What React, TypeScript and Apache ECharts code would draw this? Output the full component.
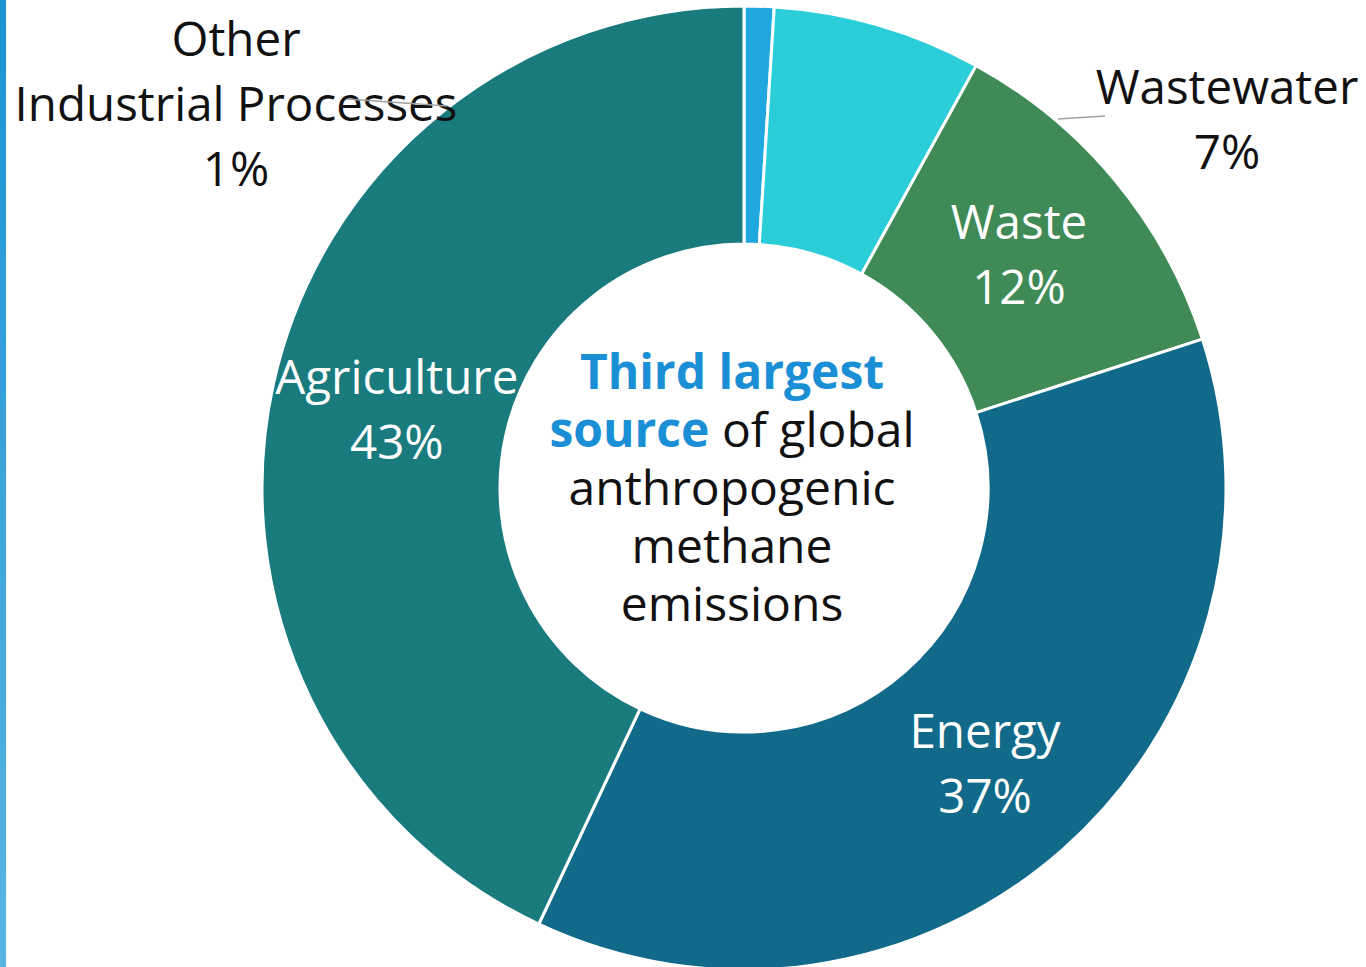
import React, { useEffect, useRef } from "react";
import * as echarts from "echarts";

// Sources of anthropogenic methane emissions (share, %)
const categories = [
  "Other\nIndustrial Processes",
  "Wastewater",
  "Waste",
  "Energy",
  "Agriculture",
];
const shares = [1, 7, 12, 37, 43];
const colors = ["#1fa8e0", "#2acdd8", "#3f8a56", "#116a8a", "#1a7b7f"];
// Slices whose label sits outside the ring
const outsideLabels: Record<number, { x: number; y: number }> = {
  0: { x: 236, y: 102 },
  1: { x: 1227, y: 118 },
};
// Small nudges for the inside labels
const labelNudge: Record<number, { dx: number; dy: number }> = {
  2: { dx: -7, dy: -2 },
  3: { dx: -1, dy: -1 },
  4: { dx: 10, dy: 0 },
};

const FONT = "'Open Sans', 'Noto Sans', sans-serif";

export default function App() {
  const ref = useRef<HTMLDivElement>(null);

  useEffect(() => {
    if (!ref.current) return;
    const chart = echarts.init(ref.current, null, { renderer: "svg" });

    const data = categories.map((name, i) => {
      const outside = i in outsideLabels;
      return {
        name,
        value: shares[i],
        itemStyle: { color: colors[i] },
        label: { color: outside ? "#111111" : "#ffffff" },
      };
    });

    chart.setOption({
      animation: false,
      backgroundColor: "#ffffff",
      graphic: [
        {
          type: "rect",
          left: 0,
          top: 0,
          shape: { x: 0, y: 0, width: 6, height: 967 },
          style: {
            fill: new echarts.graphic.LinearGradient(0, 0, 0, 1, [
              { offset: 0, color: "#1c93d3" },
              { offset: 1, color: "#5ab5e3" },
            ]),
          },
          silent: true,
        },
        {
          type: "line",
          shape: { x1: 1058, y1: 119, x2: 1105, y2: 116 },
          style: { stroke: "#a0a0a0", lineWidth: 1.5 },
          silent: true,
        },
        {
          type: "line",
          shape: { x1: 347, y1: 99, x2: 447, y2: 106 },
          style: { stroke: "#a0a0a0", lineWidth: 1.5 },
          silent: true,
          z: 10,
        },
        {
          type: "text",
          x: 732,
          y: 486,
          z: 20,
          style: {
            text: "{b|Third largest}\n{b|source}{n| of global}\n{n|anthropogenic}\n{n|methane}\n{n|emissions}",
            align: "center",
            verticalAlign: "middle",
            rich: {
              b: {
                fill: "#1b8fd5",
                fontWeight: "bold",
                fontSize: 48,
                fontFamily: FONT,
                lineHeight: 58,
              },
              n: {
                fill: "#111111",
                fontSize: 48,
                fontFamily: FONT,
                lineHeight: 58,
              },
            },
          },
        },
      ],
      series: [
        {
          type: "pie",
          center: [744, 488],
          radius: [244, 482],
          startAngle: 90,
          clockwise: true,
          avoidLabelOverlap: false,
          itemStyle: { borderColor: "#ffffff", borderWidth: 3 },
          label: {
            show: true,
            position: "inside",
            formatter: (p: any) => `${p.name}\n${p.value}%`,
            fontFamily: FONT,
            fontSize: 47.5,
            lineHeight: 65,
            align: "center",
          },
          labelLine: { show: false },
          labelLayout: (p: any) => {
            const pos = outsideLabels[p.dataIndex];
            if (pos) {
              return {
                x: pos.x,
                y: pos.y,
                align: "center",
                verticalAlign: "middle",
              };
            }
            const n = labelNudge[p.dataIndex];
            return n ? { dx: n.dx, dy: n.dy } : {};
          },
          emphasis: { disabled: true },
          data,
        },
      ],
    });

    return () => chart.dispose();
  }, []);

  return (
    <div
      ref={ref}
      style={{ position: "absolute", left: 0, top: 0, width: 1366, height: 967 }}
    />
  );
}
